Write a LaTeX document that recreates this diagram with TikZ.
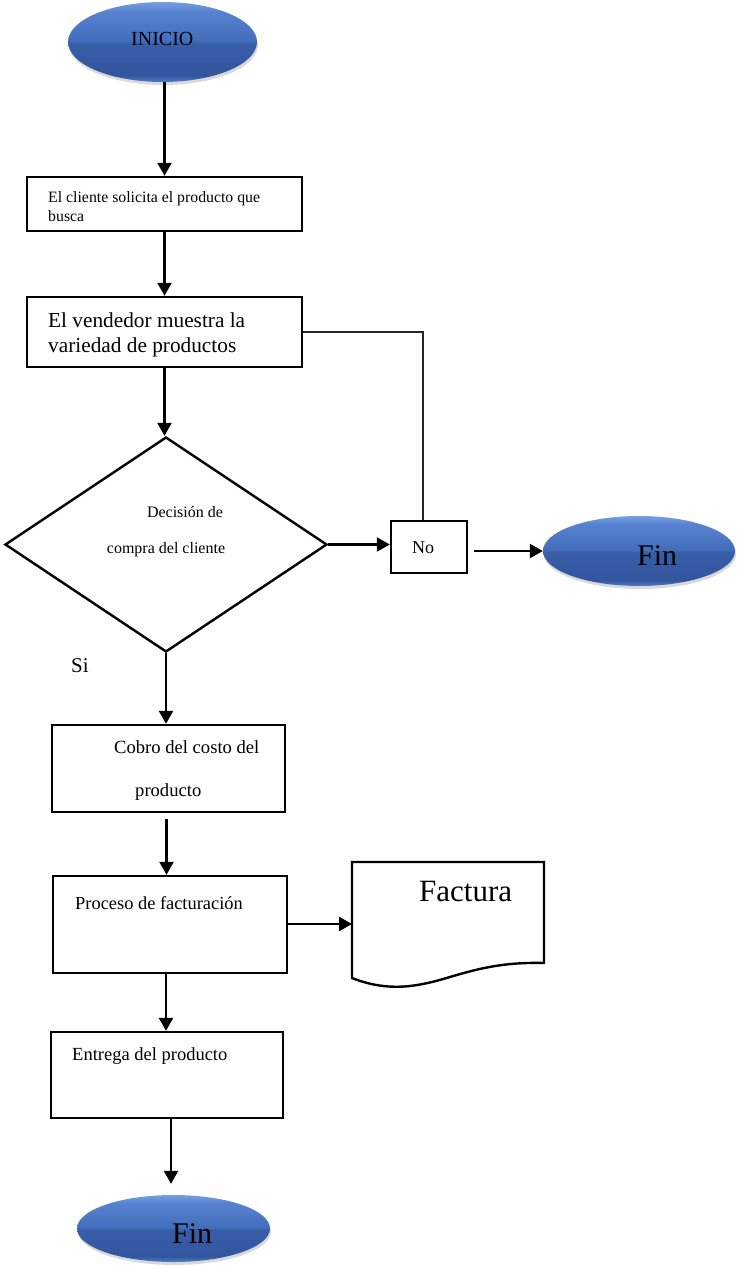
\documentclass[tikz,border=0pt]{standalone}
\usepackage{fontspec}
\setmainfont{Liberation Serif}
\usetikzlibrary{arrows.meta,shapes.geometric,shadows}
\definecolor{gRim}{RGB}{84,126,196}
\definecolor{gLow}{RGB}{50,86,158}
\definecolor{gLowTop}{RGB}{56,94,168}
\definecolor{gUpBot}{RGB}{68,110,188}
\definecolor{gUp}{RGB}{86,130,208}
\definecolor{gTop}{RGB}{118,158,226}
\pgfdeclareverticalshading{glossy}{100bp}{color(0bp)=(gRim); color(25bp)=(gRim); color(29bp)=(gLow); color(49bp)=(gLowTop); color(51bp)=(gUpBot); color(69bp)=(gUp); color(75bp)=(gTop); color(100bp)=(gTop)}
\tikzset{
  boxnode/.style={draw=black,line width=2.4pt,rectangle,inner sep=0pt,fill=white},
  termnode/.style={ellipse,inner sep=0pt,draw=none,shading=glossy,
    drop shadow={opacity=0.3,shadow xshift=1pt,shadow yshift=-3pt}},
  txt/.style={inner sep=0pt,anchor=base west},
  txtc/.style={inner sep=0pt,anchor=base},
  arr/.style={line width=2.4pt,-{Triangle[length=13pt,width=14pt]}},
  thinline/.style={line width=1.1pt,draw=black!85},
}
\newcommand{\fsz}[1]{\fontsize{#1}{#1}\selectfont}
\begin{document}
\begin{tikzpicture}[x=1pt,y=-1pt]
\useasboundingbox (0,0) rectangle (736,1268);

% terminals
\node[termnode,minimum width=189pt,minimum height=80pt] (start) at (162.5,42) {};
\node[txt,font=\fsz{20}] (tstart) at (131,46) {INICIO};

\node[termnode,minimum width=192pt,minimum height=70pt] (fin1) at (639,551) {};
\node[txt,font=\fsz{30}] (tfin1) at (637,565) {Fin};

\node[termnode,minimum width=193pt,minimum height=67pt] (fin2) at (173.5,1228.5) {};
\node[txt,font=\fsz{30}] (tfin2) at (172,1243) {Fin};

% process boxes
\node[boxnode,minimum width=275pt,minimum height=54pt] (b1) at (164.5,204) {};
\node[txt,font=\fsz{15.8}] (t1a) at (48,203) {El cliente solicita el producto que};
\node[txt,font=\fsz{15.8}] (t1b) at (48,221) {busca};

\node[boxnode,minimum width=275pt,minimum height=70pt] (b2) at (164.5,332) {};
\node[txt,font=\fsz{21.3}] (t2a) at (48,327) {El vendedor muestra la};
\node[txt,font=\fsz{21.3}] (t2b) at (48,352) {variedad de productos};

% decision
\node[diamond,draw=black,line width=2.4pt,inner sep=0pt,minimum width=322pt,minimum height=215pt] (dec) at (166,544.5) {};
\node[txtc,font=\fsz{16}] (tdec1) at (185,517) {Decisión de};
\node[txtc,font=\fsz{16}] (tdec2) at (166,553) {compra del cliente};

\node[boxnode,minimum width=76pt,minimum height=52pt] (no) at (429,547) {};
\node[txt,font=\fsz{18}] (tno) at (412,553) {No};

\node[txt,font=\fsz{21}] (tsi) at (71,672) {Si};

\node[boxnode,minimum width=233pt,minimum height=87pt] (cobro) at (168.5,768.5) {};
\node[txt,font=\fsz{18.6}] (tc1) at (114,753) {Cobro del costo del};
\node[txt,font=\fsz{18.6}] (tc2) at (135,796) {producto};

\node[boxnode,minimum width=234pt,minimum height=97pt] (proc) at (170,924.5) {};
\node[txt,font=\fsz{18.4}] (tp) at (75,909) {Proceso de facturación};

\node[boxnode,minimum width=232pt,minimum height=86pt] (ent) at (167,1075) {};
\node[txt,font=\fsz{18.5}] (te) at (72,1060) {Entrega del producto};

% document shape
\draw[line width=2.4pt,fill=white] (352,978) -- (352,862) -- (544,862) -- (544,963)
  .. controls (505,962) and (480,968) .. (450,977)
  .. controls (420,986) and (390,993) .. (352,978) -- cycle;
\coordinate (fact) at (352,924);
\node[txt,font=\fsz{31}] (tfact) at (419,901) {Factura};

% connectors
\draw[arr] (start.south -| b1.north) -- (b1.north);
\draw[arr] (b1.south) -- (b2.north);
\draw[arr] (b2.south) -- (b2.south |- dec.north);
\draw[thinline] (b2.east) -| ([xshift=-6pt]no.north);
\draw[arr] (dec.east) -- (dec.east -| no.west);
\draw[arr] ([xshift=6pt]no.east |- fin1.west) -- (fin1.west);
\draw[arr] (dec.south) -- (dec.south |- cobro.north);
\draw[arr] ([xshift=-2pt,yshift=-6pt]cobro.south) -- ([xshift=-2pt]cobro.south |- proc.north);
\draw[arr] ([xshift=-4pt]proc.south) -- ([xshift=-4pt]proc.south |- ent.north);
\draw[arr] (proc.east |- fact) -- (fact);
\draw[arr] ([xshift=4pt]ent.south) -- ([xshift=4pt,yshift=11pt]ent.south |- fin2.north);
\end{tikzpicture}
\end{document}
